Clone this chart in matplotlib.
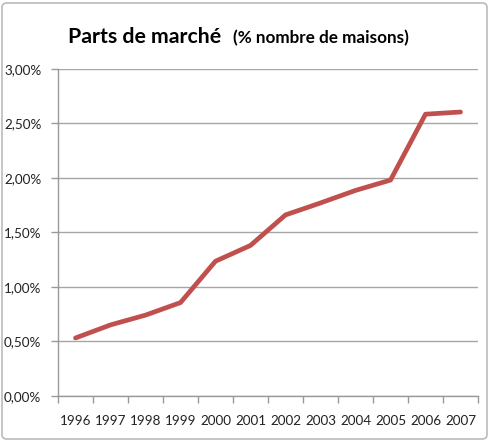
import matplotlib
matplotlib.use("Agg")
import matplotlib.pyplot as plt
from matplotlib.patches import FancyBboxPatch
from matplotlib.ticker import FuncFormatter, FixedLocator

years = ["1996", "1997", "1998", "1999", "2000", "2001", "2002", "2003", "2004", "2005", "2006", "2007"]
share = [0.53, 0.65, 0.74, 0.855, 1.235, 1.38, 1.66, 1.77, 1.885, 1.98, 2.585, 2.605]

plt.rcParams['font.family'] = ['Lato', 'DejaVu Sans']

fig = plt.figure(figsize=(4.9, 4.42), dpi=100)
ax = fig.add_axes([58/490, 1-395.7/442, 420/490, (395.7-69)/442])

x = list(range(len(years)))
ax.plot(x, share, color="#C0504D", lw=3.4, solid_capstyle="round", solid_joinstyle="round", zorder=3)

ax.set_xlim(-0.5, len(years)-0.5)
ax.set_ylim(0, 3.0)
ax.set_yticks([0, 0.5, 1.0, 1.5, 2.0, 2.5, 3.0])
ax.yaxis.set_major_formatter(FuncFormatter(lambda v, p: f"{v:.2f}%".replace(".", ",")))
ax.set_xticks(x)
ax.set_xticklabels(years)
ax.xaxis.set_minor_locator(FixedLocator([i - 0.5 for i in range(len(years)+1)]))
ax.tick_params(axis="x", which="major", length=0, pad=14, labelsize=9.7, colors="#222222")
ax.tick_params(axis="x", which="minor", length=5, color="#999999", width=1)
ax.tick_params(axis="y", length=5, color="#999999", width=1, pad=7, labelsize=9.7, labelcolor="#222222")

ax.grid(axis="y", color="#A6A6A6", lw=1)
ax.set_axisbelow(True)
for s in ["top", "right"]:
    ax.spines[s].set_visible(False)
for s in ["left", "bottom"]:
    ax.spines[s].set_color("#999999")
    ax.spines[s].set_linewidth(1)

fig.text(68/490, 1-43/442, "Parts de marché", fontsize=15.3, fontweight="bold", va="baseline", ha="left")
fig.text(233/490, 1-43/442, "(% nombre de maisons)", fontsize=12.3, fontweight="bold", va="baseline", ha="left")

border = FancyBboxPatch((2/490, 3/442), 485/490, 436/442, boxstyle="round,pad=0,rounding_size=0.01",
                        transform=fig.transFigure, fill=False, edgecolor="#BBBBBB", lw=1.2)
fig.patches.append(border)

fig.savefig("out.png", dpi=100)
